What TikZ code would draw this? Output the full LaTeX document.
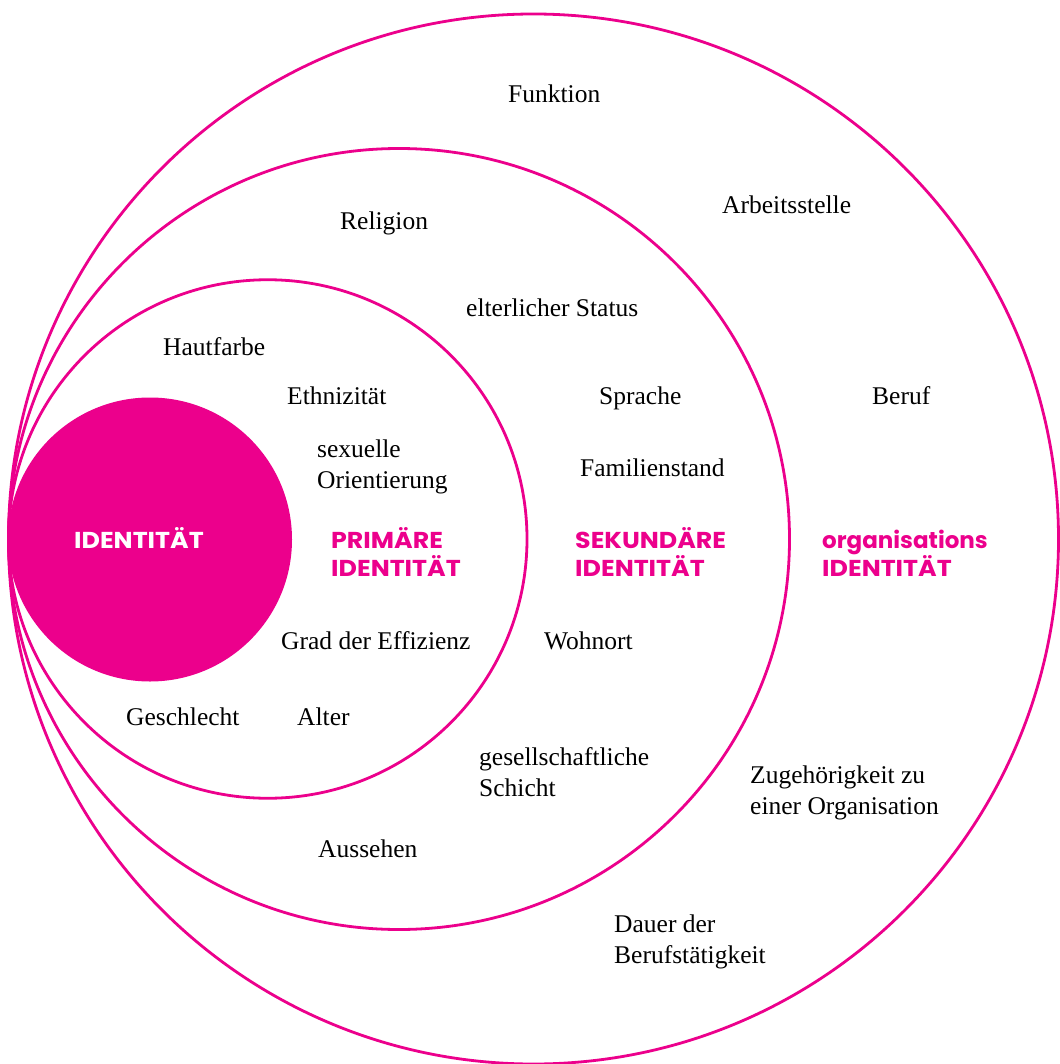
\documentclass[tikz,border=0pt]{standalone}
\usepackage{fontspec}
\setmainfont{Liberation Serif}
\newfontfamily\boldlab{Poppins}[UprightFont=* Bold,FakeStretch=1.1]
\newfontfamily\boldlow{Poppins}[UprightFont=* Bold]
\definecolor{mag}{RGB}{236,0,140}
\begin{document}
\begin{tikzpicture}[x=1pt,y=-1pt,
  ring/.style={draw=mag,line width=2.8pt},
  lab/.style={anchor=base west,inner sep=0pt,font=\fontsize{25.5}{30}\selectfont},
  head/.style={anchor=base west,inner sep=0pt,text=mag,font=\boldlab\fontsize{23}{28}\selectfont},
  headlow/.style={head,font=\boldlow\fontsize{23}{28}\selectfont}]
\useasboundingbox (0,0) rectangle (1059,1064);
\fill[white] (0,0) rectangle (1059,1064);
\node[ring,circle,minimum size=1050pt,inner sep=0pt] (outer) at (533.5,539) {};
\node[ring,circle,minimum size=781pt,inner sep=0pt] (sec) at (399,539) {};
\node[ring,circle,minimum size=518.5pt,inner sep=0pt] (prim) at (267.75,539) {};
\node[fill=mag,circle,minimum size=284pt,inner sep=0pt] (core) at (150,539.5) {};
% headings
\node[head,text=white] (hcore) at (74,548) {IDENTITÄT};
\node[head] (hp1) at (331,548) {PRIMÄRE};
\node[head] (hp2) at (331,576) {IDENTITÄT};
\node[head] (hs1) at (575,548) {SEKUNDÄRE};
\node[head] (hs2) at (575,576) {IDENTITÄT};
\node[headlow] (ho1) at (822,548) {organisations};
\node[head] (ho2) at (822,576) {IDENTITÄT};
% labels
\node[lab] (t1) at (508,103) {Funktion};
\node[lab] (t2) at (722,214) {Arbeitsstelle};
\node[lab] (t3) at (340,230) {Religion};
\node[lab] (t4) at (466,316) {elterlicher Status};
\node[lab] (t5) at (163,355) {Hautfarbe};
\node[lab] (t6) at (287,404) {Ethnizität};
\node[lab] (t7) at (599,404) {Sprache};
\node[lab] (t8) at (872,404) {Beruf};
\node[lab] (t9a) at (317,457) {sexuelle};
\node[lab] (t9b) at (317,488) {Orientierung};
\node[lab] (t10) at (580,476) {Familienstand};
\node[lab] (t11) at (281,649) {Grad der Effizienz};
\node[lab] (t12) at (544,649) {Wohnort};
\node[lab] (t13) at (126,725) {Geschlecht};
\node[lab] (t14) at (297,725) {Alter};
\node[lab] (t15a) at (479,765) {gesellschaftliche};
\node[lab] (t15b) at (479,796) {Schicht};
\node[lab] (t16a) at (750,783) {Zugehörigkeit zu};
\node[lab] (t16b) at (750,814) {einer Organisation};
\node[lab] (t17) at (318,857) {Aussehen};
\node[lab] (t18a) at (614,932) {Dauer der};
\node[lab] (t18b) at (614,963) {Berufstätigkeit};
\end{tikzpicture}
\end{document}
